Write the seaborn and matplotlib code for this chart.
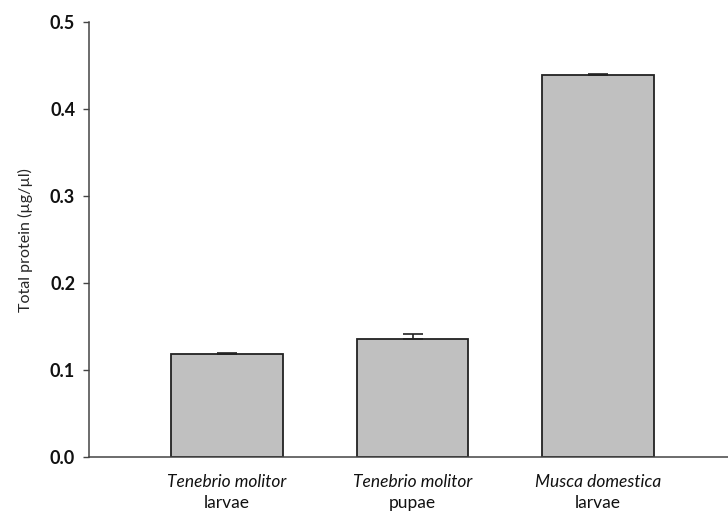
import matplotlib
matplotlib.use("Agg")
import matplotlib.pyplot as plt
import matplotlib.transforms as mtransforms
import numpy as np
import pandas as pd
import seaborn as sns

# values
species = ["Tenebrio molitor", "Tenebrio molitor", "Musca domestica"]
stages = ["larvae", "pupae", "larvae"]
protein = [0.118, 0.136, 0.439]
protein_err = [0.002, 0.005, 0.001]
yticks = [0.0, 0.1, 0.2, 0.3, 0.4, 0.5]

sns.set_style("ticks")
plt.rcParams["font.family"] = ["Lato", "DejaVu Sans"]

df = pd.DataFrame({"group": [f"{s} {t}" for s, t in zip(species, stages)],
                   "protein": protein})

fig = plt.figure(figsize=(7.28, 5.13), dpi=100)
ax = fig.add_axes([0.1223, 0.109, 0.8777, 0.848])

sns.barplot(data=df, x="group", y="protein", color="#c0c0c0", width=0.6,
            edgecolor="#222222", linewidth=1.3, saturation=1, errorbar=None, ax=ax)

# upper-only error bars
ax.errorbar(np.arange(len(protein)), protein,
            yerr=[np.zeros(len(protein)), protein_err],
            fmt="none", ecolor="#222222", elinewidth=1.2, capsize=7, capthick=1.2)

ax.set_xlim(-0.744, 2.70)
ax.set_ylim(0, 0.5)
ax.set_yticks(yticks)
ax.set_yticklabels([f"{v:.1f}" for v in yticks], fontsize=13, fontweight="bold", color="#111111")
ax.set_xticks([])
ax.set_xlabel("")
ax.set_ylabel("Total protein (µg/µl)", fontsize=11.5, labelpad=12)
ax.tick_params(axis="y", length=4, width=1, color="#444444", pad=6)

for side in ["top", "right"]:
    ax.spines[side].set_visible(False)
for side in ["left", "bottom"]:
    ax.spines[side].set_color("#444444")
    ax.spines[side].set_linewidth(1.1)

# two-line category labels: italic species, plain stage
trans = mtransforms.blended_transform_factory(ax.transData, ax.transAxes)
offset1 = mtransforms.offset_copy(trans, fig=fig, x=0, y=-25, units="dots")
offset2 = mtransforms.offset_copy(trans, fig=fig, x=0, y=-46, units="dots")
for i, (s, t) in enumerate(zip(species, stages)):
    ax.text(i, 0, s, transform=offset1, ha="center", va="center",
            fontsize=12.5, style="italic", color="#111111")
    ax.text(i, 0, t, transform=offset2, ha="center", va="center",
            fontsize=12.5, color="#111111")

fig.savefig("out.png", dpi=100)
